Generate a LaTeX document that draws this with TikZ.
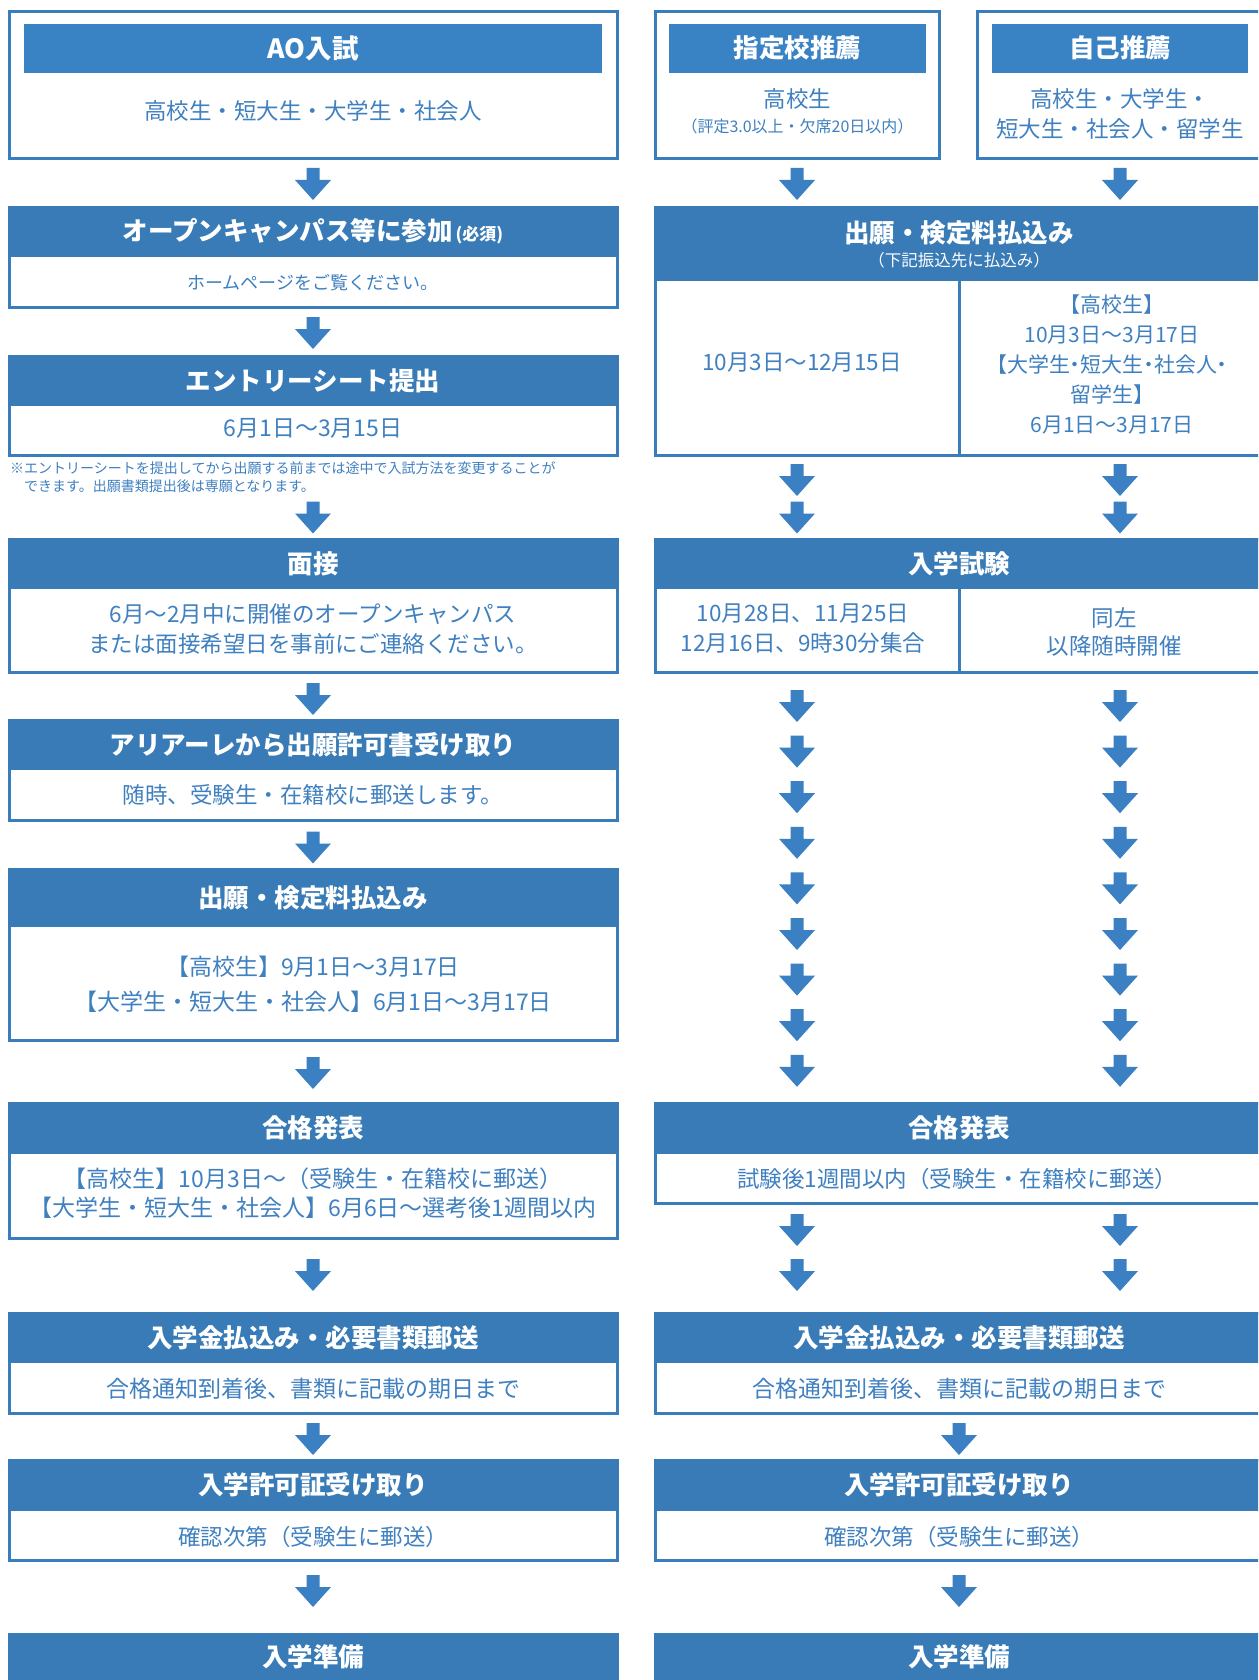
\documentclass[tikz,border=0pt]{standalone}
\usepackage{fontspec}
\setmainfont{Noto Sans CJK JP}
\newfontfamily\jpp[RawFeature=+palt]{Noto Sans CJK JP}
\definecolor{hdrc}{HTML}{387BB6}
\definecolor{barc}{HTML}{3983C5}
\definecolor{arrc}{HTML}{3A80C2}
\definecolor{txtc}{HTML}{3F80C0}
\definecolor{frc}{HTML}{3A7DBD}
\newcommand\hfnt{\bfseries\fontsize{25.5}{30}\selectfont}
\newcommand\bfnt{\fontsize{22.5}{30}\selectfont}
\tikzset{
  frame/.style={draw=frc, line width=3pt, fill=white, inner sep=0pt, minimum width=608pt},
  rframe/.style={frame, minimum width=607pt},
  hbar/.style={fill=hdrc, inner sep=0pt, text=white, font=\hfnt, minimum width=611pt},
  rhbar/.style={hbar, minimum width=610pt},
  tbar/.style={fill=barc, inner sep=0pt, text=white, font=\hfnt, minimum height=49.4pt},
  btxt/.style={text=txtc, font=\bfnt, align=center, inner sep=0pt},
  htxt/.style={text=white, font=\hfnt, align=center, inner sep=0pt},
  divider/.style={draw=frc, line width=3pt},
  darr/.pic={\fill[arrc] (-6.5,0) -- (6.5,0) -- (6.5,12) -- (18,12) -- (0,32) -- (-18,12) -- (-6.5,12) -- cycle;}
}
\begin{document}
\begin{tikzpicture}[x=1pt,y=-1pt]
\clip (0,0) rectangle (1258,1680);
\fill[white] (0,0) rectangle (1258,1680);

% ---------- top boxes ----------
\node[frame, minimum height=147.4pt] (ao) at (313,84.8) {};
\node[tbar, minimum width=578.6pt, font=\bfseries\fontsize{26.5}{30}\selectfont] (aot) at (313,48.3) {AO入試};
\node[btxt] (aotx) at (313,111) {高校生・短大生・大学生・社会人};

\node[frame, minimum width=284pt, minimum height=147.4pt] (sk) at (797.5,84.8) {};
\node[tbar, minimum width=257pt] (skt) at (797.5,48.3) {指定校推薦};
\node[btxt] (sktx) at (797.5,98.6) {高校生};
\node[btxt, font=\fontsize{16}{18}\selectfont] (sktx2) at (797.5,126) {（評定3.0以上・欠席20日以内）};

\node[frame, minimum width=285pt, minimum height=147.4pt] (jk) at (1120,84.8) {};
\node[tbar, minimum width=256pt] (jkt) at (1120,48.3) {自己推薦};
\node[btxt] (jktx) at (1120,113.6) {高校生・大学生・\\短大生・社会人・留学生};

% ---------- left column ----------
\node[frame, minimum height=100pt] (l2) at (313,257.5) {};
\node[hbar, minimum height=51pt] (l2h) at (313,231.5) {オープンキャンパス等に参加{\fontsize{17}{20}\selectfont\,(必須)}};
\node[btxt, font=\fontsize{18}{20}\selectfont] (l2t) at (313,283) {ホームページをご覧ください。};

\node[frame, minimum height=99pt] (l3) at (313,406) {};
\node[hbar, minimum height=51pt] (l3h) at (313,380.5) {エントリーシート提出};
\node[btxt, font=\fontsize{23}{30}\selectfont] (l3t) at (313,428.6) {6月1日〜3月15日};
\node[text=txtc, font=\fontsize{14}{18}\selectfont, anchor=west, inner sep=0pt] (note1) at (10,468) {※エントリーシートを提出してから出願する前までは途中で入試方法を変更することが};
\node[text=txtc, font=\fontsize{14}{18}\selectfont, anchor=west, inner sep=0pt] (note2) at (10,486) {　できます。出願書類提出後は専願となります。};

\node[frame, minimum height=133pt] (l4) at (313,606) {};
\node[hbar, minimum height=51pt] (l4h) at (313,563.5) {面接};
\node[btxt] (l4t) at (313,629) {6月〜2月中に開催のオープンキャンパス\\または面接希望日を事前にご連絡ください。};

\node[frame, minimum height=100pt] (l5) at (313,770.5) {};
\node[hbar, minimum height=51pt] (l5h) at (313,744.5) {アリアーレから出願許可書受け取り};
\node[btxt] (l5t) at (313,795) {随時、受験生・在籍校に郵送します。};

\node[frame, minimum height=171pt] (l6) at (313,955) {};
\node[hbar, minimum height=59pt] (l6h) at (313,897.5) {出願・検定料払込み};
\node[btxt, font=\fontsize{23}{35}\selectfont] (l6t) at (313,984.3) {【高校生】9月1日〜3月17日\\【大学生・短大生・社会人】6月1日〜3月17日};

\node[frame, minimum height=135pt] (l7) at (313,1171) {};
\node[hbar, minimum height=52pt] (l7h) at (313,1128) {合格発表};
\node[btxt, font=\fontsize{23}{29}\selectfont] (l7t) at (313,1193.5) {【高校生】10月3日〜（受験生・在籍校に郵送）\\【大学生・短大生・社会人】6月6日〜選考後1週間以内};

\node[frame, minimum height=100pt] (l8) at (313,1363.5) {};
\node[hbar, minimum height=51pt] (l8h) at (313,1337.5) {入学金払込み・必要書類郵送};
\node[btxt, font=\fontsize{23}{30}\selectfont] (l8t) at (313,1389) {合格通知到着後、書類に記載の期日まで};

\node[frame, minimum height=100pt] (l9) at (313,1510.5) {};
\node[hbar, minimum height=52pt] (l9h) at (313,1485) {入学許可証受け取り};
\node[btxt] (l9t) at (313,1537) {確認次第（受験生に郵送）};

\node[hbar, minimum height=48pt] (l10h) at (313,1657) {入学準備};

% ---------- right column ----------
\node[rframe, minimum height=248pt] (r2) at (959,331.5) {};
\node[rhbar, minimum height=75pt] (r2h) at (959,243.5) {};
\node[htxt] (r2ht) at (959,232.5) {出願・検定料払込み};
\node[htxt, font=\fontsize{16.5}{18}\selectfont] (r2hs) at (959,260) {（下記振込先に払込み）};
\draw[divider] (r2h.south) -- (r2.south);
\node[btxt] (r2a) at (802,363) {10月3日〜12月15日};
\node[btxt, font=\fontsize{21}{30}\selectfont] (r2b) at (1112,364) {【高校生】\\10月3日〜3月17日\\{\jpp 【大学生・短大生・社会人・}\\留学生】\\6月1日〜3月17日};

\node[rframe, minimum height=133pt] (r4) at (959,606) {};
\node[rhbar, minimum height=51pt] (r4h) at (959,563.5) {入学試験};
\draw[divider] (r4h.south) -- (r4.south);
\node[btxt] (r4a) at (803,629) {10月28日、11月25日\\12月16日、9時30分集合};
\node[btxt, font=\fontsize{22.5}{28}\selectfont] (r4b) at (1114,632) {同左\\以降随時開催};

\node[rframe, minimum height=100pt] (r7) at (959,1153.5) {};
\node[rhbar, minimum height=52pt] (r7h) at (959,1128) {合格発表};
\node[btxt] (r7t) at (957,1179) {試験後1週間以内（受験生・在籍校に郵送）};

\node[rframe, minimum height=100pt] (r8) at (959,1363.5) {};
\node[rhbar, minimum height=51pt] (r8h) at (959,1337.5) {入学金払込み・必要書類郵送};
\node[btxt, font=\fontsize{23}{30}\selectfont] (r8t) at (959,1389) {合格通知到着後、書類に記載の期日まで};

\node[rframe, minimum height=100pt] (r9) at (959,1510.5) {};
\node[rhbar, minimum height=52pt] (r9h) at (959,1485) {入学許可証受け取り};
\node[btxt] (r9t) at (959,1537) {確認次第（受験生に郵送）};

\node[rhbar, minimum height=48pt] (r10h) at (959,1657) {入学準備};

% ---------- arrows ----------
\foreach \y in {168,317,501.5,683,831.5,1057,1259,1423,1575}
  \pic at (313,\y) {darr};
\foreach \x in {797,1120}{
  \foreach \y in {168,464,501.5,690,735.6,781.2,826.8,872.4,918,963.6,1009.2,1054.8,1214,1259}
    \pic at (\x,\y) {darr};
}
\foreach \y in {1423,1575}
  \pic at (959,\y) {darr};
\end{tikzpicture}
\end{document}
